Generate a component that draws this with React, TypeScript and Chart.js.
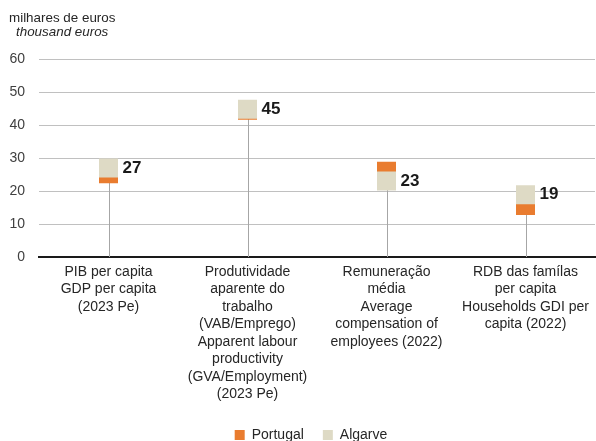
import React, { useEffect, useRef } from "react";
import { Chart, registerables } from "chart.js";

Chart.register(...registerables);

const categories: string[][] = [
  ["PIB per capita", "GDP per capita", "(2023 Pe)"],
  ["Produtividade", "aparente do", "trabalho", "(VAB/Emprego)", "Apparent labour", "productivity", "(GVA/Employment)", "(2023 Pe)"],
  ["Remuneração", "média", "Average", "compensation of", "employees (2022)"],
  ["RDB das famílas", "per capita", "Households GDI per", "capita (2022)"],
];
const portugal: number[] = [25.2, 44.5, 26.0, 15.6];
const algarve: number[] = [27.0, 44.8, 23.0, 18.9];
const yTicks: number[] = [0, 10, 20, 30, 40, 50, 60];

const FONT = "'Liberation Sans', Arial, Helvetica, sans-serif";

export default function App() {
  const ref = useRef<HTMLCanvasElement | null>(null);

  useEffect(() => {
    if (!ref.current) return;
    Chart.defaults.font.family = FONT;

    const headerPlugin = {
      id: "header",
      afterLayout(chart: any) {
        const lg = chart.legend;
        if (lg) {
          lg.left += 9;
          lg.right += 9;
        }
      },
      afterDraw(chart: any) {
        const ctx = chart.ctx;
        ctx.save();
        ctx.fillStyle = "#262626";
        ctx.textAlign = "left";
        ctx.textBaseline = "alphabetic";
        ctx.font = `13.4px ${FONT}`;
        ctx.fillText("milhares de euros", 9, 22);
        ctx.font = `italic 13.4px ${FONT}`;
        ctx.fillText("thousand euros", 16, 36);
        ctx.restore();
      },
    };

    const hiLoPlugin = {
      id: "hilo",
      beforeDatasetsDraw(chart: any) {
        const ctx = chart.ctx;
        const xs = chart.scales.x;
        const ys = chart.scales.y;
        ctx.save();
        ctx.strokeStyle = "#a6a6a6";
        ctx.lineWidth = 1;
        for (let i = 0; i < categories.length; i++) {
          const x = Math.round(xs.getPixelForValue(i)) + 0.5;
          const y0 = ys.getPixelForValue(0);
          const y1 = ys.getPixelForValue(Math.min(portugal[i], algarve[i]));
          ctx.beginPath();
          ctx.moveTo(x, y0);
          ctx.lineTo(x, y1);
          ctx.stroke();
        }
        ctx.restore();
      },
    };

    const labelPlugin = {
      id: "vlabels",
      afterDatasetsDraw(chart: any) {
        const ctx = chart.ctx;
        const xs = chart.scales.x;
        const ys = chart.scales.y;
        ctx.save();
        ctx.fillStyle = "#1a1a1a";
        ctx.font = `bold 17px ${FONT}`;
        ctx.textAlign = "left";
        ctx.textBaseline = "middle";
        for (let i = 0; i < algarve.length; i++) {
          const x = xs.getPixelForValue(i) + 14;
          const y = ys.getPixelForValue(algarve[i]);
          ctx.fillText(String(Math.round(algarve[i])), x, y);
        }
        ctx.restore();
      },
    };

    const side = 19;
    const r = side / Math.SQRT2;

    const chart = new Chart(ref.current, {
      type: "line",
      data: {
        labels: categories,
        datasets: [
          {
            label: "Portugal",
            data: portugal,
            showLine: false,
            pointStyle: "rect",
            pointRadius: r,
            pointHoverRadius: r,
            backgroundColor: "#e97c2f",
            borderColor: "#e97c2f",
            pointBorderWidth: 0,
            borderWidth: 0,
            order: 1,
          },
          {
            label: "Algarve",
            data: algarve,
            showLine: false,
            pointStyle: "rect",
            pointRadius: r,
            pointHoverRadius: r,
            backgroundColor: "#dedac5",
            borderColor: "#dedac5",
            pointBorderWidth: 0,
            borderWidth: 0,
            order: 0,
          },
        ],
      },
      options: {
        animation: false,
        responsive: true,
        maintainAspectRatio: false,
        layout: { autoPadding: false, padding: { top: 59, left: 9, right: 1, bottom: -11 } },
        plugins: {
          tooltip: { enabled: false },
          legend: {
            position: "bottom",
            labels: {
              boxWidth: 10,
              boxHeight: 10,
              padding: 19,
              color: "#262626",
              font: { size: 14, family: FONT },
              sort: (a: any, b: any) => a.datasetIndex - b.datasetIndex,
            },
          },
        },
        scales: {
          x: {
            offset: true,
            afterFit: (axis: any) => {
              axis.paddingLeft = 0;
              axis.paddingRight = 0;
            },
            grid: { display: false, drawTicks: false },
            border: { display: true, color: "#1a1a1a", width: 2 },
            ticks: {
              autoSkip: false,
              maxRotation: 0,
              minRotation: 0,
              padding: 6,
              color: "#262626",
              font: { size: 14, family: FONT, lineHeight: 1.25 },
            },
          },
          y: {
            min: 0,
            max: 60,
            afterFit: (axis: any) => {
              axis.width = 30;
            },
            afterBuildTicks: (axis: any) => {
              axis.ticks = yTicks.map((v) => ({ value: v }));
            },
            grid: {
              drawTicks: false,
              color: (c: any) => (c.tick && c.tick.value === 0 ? "rgba(0,0,0,0)" : "#c0c0c0"),
              lineWidth: 1,
            },
            border: { display: false },
            ticks: {
              padding: 14,
              color: "#404040",
              font: { size: 14, family: FONT },
            },
          },
        },
      },
      plugins: [headerPlugin, hiLoPlugin, labelPlugin],
    } as any);

    return () => chart.destroy();
  }, []);

  return (
    <div style={{ position: "absolute", left: 0, top: 0, width: 596, height: 441 }}>
      <canvas ref={ref} />
    </div>
  );
}
